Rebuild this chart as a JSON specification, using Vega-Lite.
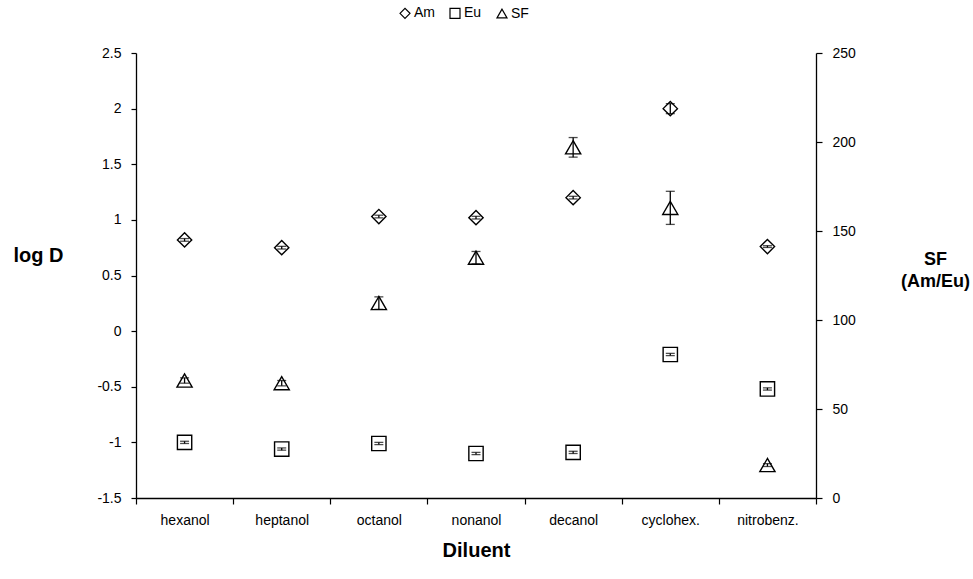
{
  "$schema": "https://vega.github.io/schema/vega-lite/v6.json",
  "width": 680,
  "height": 445,
  "autosize": "none",
  "padding": {"left": 136, "top": 53, "right": 157, "bottom": 81},
  "background": "white",
  "config": {
    "font": "Liberation Sans",
    "view": {"stroke": null},
    "axis": {
      "domainColor": "black",
      "tickColor": "black",
      "labelColor": "black",
      "titleColor": "black",
      "labelFont": "Liberation Sans",
      "titleFont": "Liberation Sans",
      "labelFontSize": 14,
      "titleFontSize": 18,
      "titleFontWeight": "bold",
      "grid": false,
      "domainWidth": 1.3,
      "tickWidth": 1.2
    }
  },
  "data": {
    "values": [
      {"diluent": "hexanol", "series": "Am", "value": 0.82, "err": 0.012},
      {"diluent": "heptanol", "series": "Am", "value": 0.75, "err": 0.012},
      {"diluent": "octanol", "series": "Am", "value": 1.03, "err": 0.012},
      {"diluent": "nonanol", "series": "Am", "value": 1.02, "err": 0.012},
      {"diluent": "decanol", "series": "Am", "value": 1.2, "err": 0.012},
      {"diluent": "cyclohex.", "series": "Am", "value": 2.0, "err": 0.045},
      {"diluent": "nitrobenz.", "series": "Am", "value": 0.76, "err": 0.008},
      {"diluent": "hexanol", "series": "Eu", "value": -1.0, "err": 0.01},
      {"diluent": "heptanol", "series": "Eu", "value": -1.06, "err": 0.01},
      {"diluent": "octanol", "series": "Eu", "value": -1.01, "err": 0.01},
      {"diluent": "nonanol", "series": "Eu", "value": -1.1, "err": 0.01},
      {"diluent": "decanol", "series": "Eu", "value": -1.09, "err": 0.01},
      {"diluent": "cyclohex.", "series": "Eu", "value": -0.21, "err": 0.01},
      {"diluent": "nitrobenz.", "series": "Eu", "value": -0.52, "err": 0.01},
      {"diluent": "hexanol", "series": "SF", "value": 66, "err": 1.5},
      {"diluent": "heptanol", "series": "SF", "value": 64.5, "err": 1.5},
      {"diluent": "octanol", "series": "SF", "value": 109.5, "err": 3.5},
      {"diluent": "nonanol", "series": "SF", "value": 135, "err": 3.5},
      {"diluent": "decanol", "series": "SF", "value": 197, "err": 5.5},
      {"diluent": "cyclohex.", "series": "SF", "value": 163, "err": 9.3},
      {"diluent": "nitrobenz.", "series": "SF", "value": 18.5, "err": 0.8}
    ]
  },
  "encoding": {
    "x": {
      "field": "diluent",
      "type": "nominal",
      "sort": ["hexanol", "heptanol", "octanol", "nonanol", "decanol", "cyclohex.", "nitrobenz."],
      "scale": {"paddingInner": 0, "paddingOuter": 0},
      "axis": {
        "title": "Diluent",
        "titleFontSize": 20,
        "labelAngle": 0,
        "tickBand": "extent",
        "tickSize": 6,
        "labelPadding": 9,
        "titlePadding": 13
      }
    }
  },
  "layer": [
    {
      "transform": [{"filter": "datum.series !== 'SF'"}],
      "layer": [
        {
          "mark": {"type": "errorbar", "ticks": {"size": 9}, "color": "black", "thickness": 1.3},
          "encoding": {
            "y": {
              "field": "value",
              "type": "quantitative",
              "scale": {"domain": [-1.5, 2.5], "nice": false, "zero": false},
              "axis": {
                "orient": "left",
                "title": "log D",
                "titleFontSize": 20,
                "values": [-1.5, -1, -0.5, 0, 0.5, 1, 1.5, 2, 2.5],
                "format": ".1~f",
                "labelExpr": "replace(datum.label, '\u2212', '-')",
                "tickSize": 5,
                "labelPadding": 10,
                "titleAngle": 0,
                "titleAlign": "center",
                "titleBaseline": "middle",
                "titleX": -98,
                "titleY": 202
              }
            },
            "yError": {"field": "err"}
          }
        },
        {
          "mark": {"type": "point", "filled": false, "color": "black", "strokeWidth": 1.4, "size": 205, "opacity": 1},
          "encoding": {
            "y": {
              "field": "value",
              "type": "quantitative",
              "scale": {"domain": [-1.5, 2.5], "nice": false, "zero": false},
              "axis": {
                "orient": "left",
                "title": "log D",
                "titleFontSize": 20,
                "values": [-1.5, -1, -0.5, 0, 0.5, 1, 1.5, 2, 2.5],
                "format": ".1~f",
                "labelExpr": "replace(datum.label, '\u2212', '-')",
                "tickSize": 5,
                "labelPadding": 10,
                "titleAngle": 0,
                "titleAlign": "center",
                "titleBaseline": "middle",
                "titleX": -98,
                "titleY": 202
              }
            },
            "shape": {
              "field": "series",
              "type": "nominal",
              "scale": {"domain": ["Am", "Eu", "SF"], "range": ["diamond", "square", "triangle-up"]},
              "legend": {
                "title": null,
                "orient": "none",
                "direction": "horizontal",
                "legendX": 262,
                "legendY": -47,
                "symbolSize": 100,
                "symbolStrokeWidth": 1.2,
                "symbolStrokeColor": "black",
                "symbolFillColor": "transparent",
                "labelFontSize": 14,
                "labelFont": "Liberation Sans",
                "labelColor": "black",
                "labelOffset": 2,
                "columnPadding": 12
              }
            }
          }
        }
      ]
    },
    {
      "transform": [{"filter": "datum.series === 'SF'"}],
      "layer": [
        {
          "mark": {"type": "errorbar", "ticks": {"size": 9}, "color": "black", "thickness": 1.3},
          "encoding": {
            "y": {
              "field": "value",
              "type": "quantitative",
              "scale": {"domain": [0, 250], "nice": false},
              "axis": {
                "orient": "right",
                "title": ["SF", "(Am/Eu)"],
                "values": [0, 50, 100, 150, 200, 250],
                "tickSize": 6,
                "labelPadding": 10,
                "titleAngle": 0,
                "titleAlign": "center",
                "titleBaseline": "middle",
                "titleLineHeight": 22,
                "titleX": 119,
                "titleY": 206
              }
            },
            "yError": {"field": "err"}
          }
        },
        {
          "mark": {"type": "point", "filled": false, "color": "black", "strokeWidth": 1.4, "size": 230, "opacity": 1},
          "encoding": {
            "y": {
              "field": "value",
              "type": "quantitative",
              "scale": {"domain": [0, 250], "nice": false},
              "axis": {
                "orient": "right",
                "title": ["SF", "(Am/Eu)"],
                "values": [0, 50, 100, 150, 200, 250],
                "tickSize": 6,
                "labelPadding": 10,
                "titleAngle": 0,
                "titleAlign": "center",
                "titleBaseline": "middle",
                "titleLineHeight": 22,
                "titleX": 119,
                "titleY": 206
              }
            },
            "shape": {
              "field": "series",
              "type": "nominal",
              "scale": {"domain": ["Am", "Eu", "SF"], "range": ["diamond", "square", "triangle-up"]}
            }
          }
        }
      ]
    }
  ],
  "resolve": {"scale": {"y": "independent"}}
}
